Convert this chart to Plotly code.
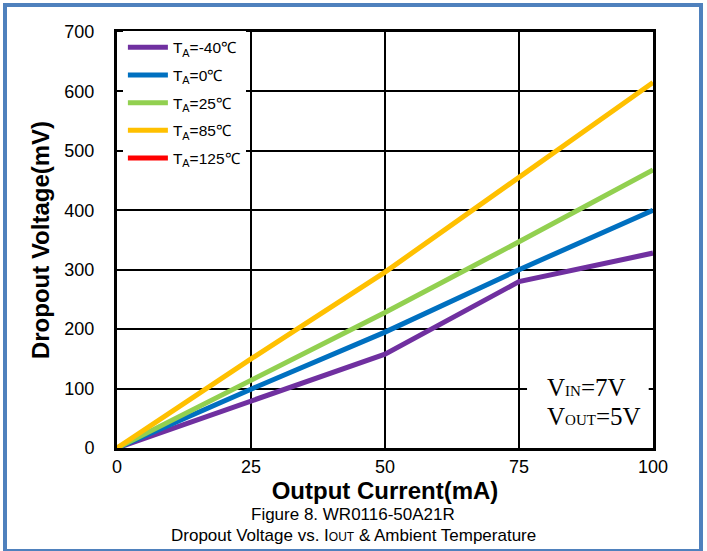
import plotly.graph_objects as go

# Output current (mA)
current_ma = [0, 25, 50, 75, 100]

# Dropout voltage (mV) at each ambient temperature
dropout_m40 = [0, 80, 158, 280, 328]
dropout_0 = [0, 99, 195, 300, 400]
dropout_25 = [0, 115, 228, 347, 468]
dropout_85 = [0, 150, 296, 455, 615]
dropout_125 = [None]

series = [
    ("T<sub>A</sub>=-40℃", dropout_m40, "#7030A0"),
    ("T<sub>A</sub>=0℃", dropout_0, "#0070C0"),
    ("T<sub>A</sub>=25℃", dropout_25, "#92D050"),
    ("T<sub>A</sub>=85℃", dropout_85, "#FFC000"),
    ("T<sub>A</sub>=125℃", dropout_125, "#FF0000"),
]

x_ticks = [0, 25, 50, 75, 100]
y_ticks = [0, 100, 200, 300, 400, 500, 600, 700]

W, H = 707, 551
L, R, T, B = 117, 54, 32, 103

fig = go.Figure()
for i, (name, vals, color) in enumerate(series):
    xs = current_ma[: len(vals)]
    fig.add_trace(go.Scatter(
        x=xs, y=vals, mode="lines", name=name,
        line=dict(color=color, width=5),
        legendgroup=f"g{i}", showlegend=True,
    ))

font_main = "Liberation Sans, Arial, sans-serif"

fig.update_layout(
    width=W, height=H,
    margin=dict(l=L, r=R, t=T, b=B),
    paper_bgcolor="white", plot_bgcolor="white",
    font=dict(family=font_main, color="black", size=18),
    showlegend=True,
    legend=dict(
        x=0.011, y=1.003, xanchor="left", yanchor="top",
        bgcolor="white", borderwidth=0,
        font=dict(size=15.5, family=font_main, color="black"),
        traceorder="grouped", tracegroupgap=4.5,
        itemwidth=40,
    ),
    xaxis=dict(
        range=[0, 100], tickvals=x_ticks, ticktext=[str(v) for v in x_ticks],
        showgrid=True, gridcolor="black", gridwidth=2,
        showline=True, linecolor="black", linewidth=3, mirror=True,
        ticks="", zeroline=False,
        tickfont=dict(size=18),
        title=dict(text="<b>Output Current(mA)</b>", font=dict(size=24), standoff=4),
    ),
    yaxis=dict(
        range=[0, 700], tickvals=y_ticks,
        showgrid=True, gridcolor="black", gridwidth=2,
        showline=True, linecolor="black", linewidth=3, mirror=True,
        ticks="", zeroline=False,
        tickfont=dict(size=18),
        ticklabelstandoff=16,
        title=dict(text="<b>Dropout Voltage(mV)</b>", font=dict(size=24), standoff=8),
    ),
)

def px_x(px):
    return (px - L) / (W - L - R)

def px_y(py):
    return (H - B - py) / (H - T - B)

# white panel behind the supply-condition note
fig.add_shape(type="rect", xref="x", yref="y", x0=76.5, x1=99.2, y0=4, y1=140,
              fillcolor="white", line=dict(width=0), layer="above")

serif = "Liberation Serif, Times New Roman, serif"
fig.add_annotation(xref="paper", yref="paper", x=px_x(545), y=px_y(387),
                   xanchor="left", yanchor="middle", showarrow=False,
                   text='V<span style="font-size:15px">IN</span>=7V',
                   font=dict(family=serif, size=25, color="black"))
fig.add_annotation(xref="paper", yref="paper", x=px_x(545), y=px_y(416),
                   xanchor="left", yanchor="middle", showarrow=False,
                   text='V<span style="font-size:15px">OUT</span>=5V',
                   font=dict(family=serif, size=25, color="black"))

# figure caption, centred on the page
fig.add_annotation(xref="paper", yref="paper", x=px_x(353), y=px_y(514),
                   xanchor="center", yanchor="middle", showarrow=False,
                   text="Figure 8. WR0116-50A21R",
                   font=dict(size=17, color="black"))
fig.add_annotation(xref="paper", yref="paper", x=px_x(353), y=px_y(535),
                   xanchor="center", yanchor="middle", showarrow=False,
                   text='Dropout Voltage vs. I<span style="font-size:12px">OUT</span> &amp; Ambient Temperature',
                   font=dict(size=17, color="black"))

# blue page frame
fig.add_shape(type="rect", xref="paper", yref="paper",
              x0=px_x(5), x1=px_x(701), y0=px_y(5), y1=px_y(551),
              line=dict(color="#4F81BD", width=4), fillcolor="rgba(0,0,0,0)",
              layer="above")

fig.write_html("out.html")
